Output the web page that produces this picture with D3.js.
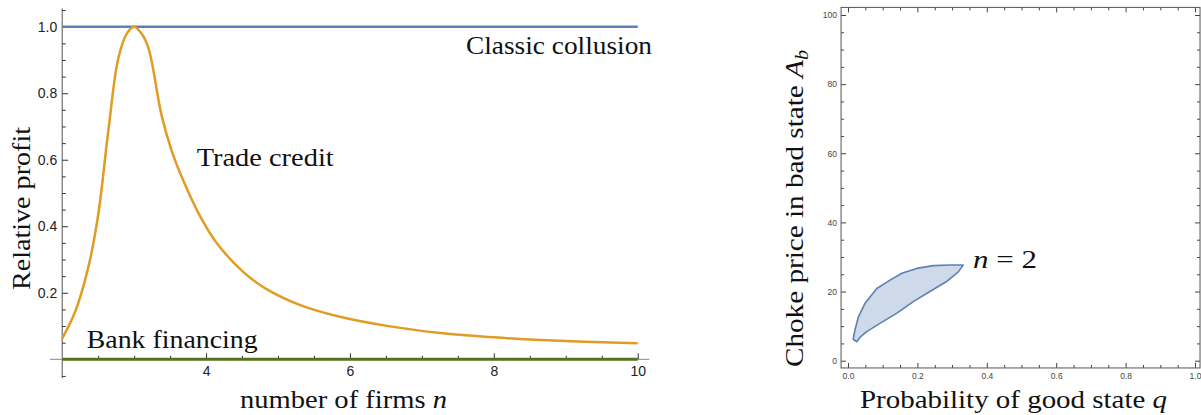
<!DOCTYPE html>
<html lang="en">
<head>
<meta charset="UTF-8">
<title>Relative profit and choke price region</title>
<script src="https://d3js.org/d3.v7.min.js"></script>
<style>
    body { margin: 0; background: #fff; }
    .tick text { font-family: "Liberation Sans", Arial, sans-serif; fill: #222; }
</style>
</head>
<body>
<svg id="chart" width="1201" height="415"></svg>
<script>
// ---- left panel data ----
const firms = [2, 2.18, 2.36, 2.5, 2.64, 2.78, 2.9, 3, 3.1, 3.2, 3.38, 3.52, 3.68, 3.92, 4.15, 4.52, 4.84, 5.31, 5.86, 6.56, 7.26, 8, 8.65, 10];
const tradeCredit = [0.063, 0.143, 0.274, 0.434, 0.685, 0.905, 0.98, 1.0, 0.98, 0.935, 0.735, 0.628, 0.539, 0.429, 0.349, 0.262, 0.211, 0.163, 0.128, 0.099, 0.079, 0.066, 0.058, 0.048];
const flatFirms = [2, 10];
const classicCollusion = [1, 1];
const bankFinancing = [0, 0];
const leftXTicks = [4, 6, 8, 10];
const leftYTicks = [0.2, 0.4, 0.6, 0.8, 1.0];

// ---- right panel data (n = 2 region boundary) ----
const upperQ = [0.015, 0.020, 0.030, 0.049, 0.083, 0.121, 0.155, 0.198, 0.246, 0.294, 0.332];
const upperA = [6.2, 8.9, 12.7, 16.6, 20.9, 23.3, 25.3, 26.7, 27.5, 27.7, 27.7];
const lowerQ = [0.025, 0.035, 0.054, 0.092, 0.140, 0.188, 0.236, 0.284, 0.318];
const lowerA = [5.5, 6.8, 8.4, 10.8, 13.7, 17.1, 20.0, 22.9, 25.7];
const qTicks = [0, 0.2, 0.4, 0.6, 0.8, 1.0];
const aTicks = [0, 20, 40, 60, 80, 100];

const svg = d3.select("#chart");
const axisColor = "#555";
const serifFont = "'Liberation Serif', 'DejaVu Serif', serif";

// ================= left panel =================
const x = d3.scaleLinear().domain([2, 10]).range([62.2, 637.7]);
const y = d3.scaleLinear().domain([0, 1]).range([359.3, 26.7]);

const left = svg.append("g");

// axis lines (Mathematica style, crossing at origin)
left.append("line")
    .attr("x1", x(2)).attr("x2", x(2))
    .attr("y1", y(-0.057)).attr("y2", y(1.055))
    .attr("stroke", axisColor).attr("stroke-width", 1);
left.append("line")
    .attr("x1", x(1.83)).attr("x2", x(10.16))
    .attr("y1", y(0)).attr("y2", y(0))
    .attr("stroke", "#888").attr("stroke-width", 1);

// y ticks
const yMajor = left.append("g")
    .attr("transform", `translate(${x(2)},0)`)
    .call(d3.axisLeft(y).tickValues(leftYTicks).tickFormat(d3.format(".1f"))
        .tickSizeInner(-6).tickSizeOuter(0).tickPadding(5));
const yMinor = left.append("g")
    .attr("transform", `translate(${x(2)},0)`)
    .call(d3.axisLeft(y).tickValues(d3.range(-0.05, 1.06, 0.05).filter(v => Math.abs(v * 5 - Math.round(v * 5)) > 1e-6))
        .tickFormat("").tickSizeInner(-3.5).tickSizeOuter(0));

// x ticks
const xMajor = left.append("g")
    .attr("transform", `translate(0,${y(0)})`)
    .call(d3.axisBottom(x).tickValues(leftXTicks).tickFormat(d3.format("d"))
        .tickSizeInner(-6).tickSizeOuter(0).tickPadding(7));
const xMinor = left.append("g")
    .attr("transform", `translate(0,${y(0)})`)
    .call(d3.axisBottom(x).tickValues(d3.range(2.5, 10, 0.5).filter(v => v % 2 !== 0))
        .tickFormat("").tickSizeInner(-3.5).tickSizeOuter(0));

[yMajor, yMinor, xMajor, xMinor].forEach(g => {
    g.select(".domain").remove();
    g.selectAll(".tick line").attr("stroke", "#333");
    g.selectAll(".tick text").style("font-size", "14px");
});

// lines
const flatLine = d3.line().x((d, i) => x(flatFirms[i])).y(d => y(d));
left.append("path")
    .attr("d", flatLine(bankFinancing))
    .attr("fill", "none").attr("stroke", "#56711f").attr("stroke-width", 3);
left.append("path")
    .attr("d", flatLine(classicCollusion))
    .attr("fill", "none").attr("stroke", "#5E81B5").attr("stroke-width", 2.5);
left.append("path")
    .attr("d", d3.line().curve(d3.curveCatmullRom.alpha(0.5))
        .x((d, i) => x(firms[i])).y(d => y(d))(tradeCredit))
    .attr("fill", "none").attr("stroke", "#E19C24").attr("stroke-width", 2.5);

// labels
function serifLabel(g, tx, ty, len, parts, rotate) {
    const t = g.append("text")
        .attr("font-family", serifFont)
        .style("font-family", serifFont)
        .style("font-size", "26px")
        .attr("fill", "#111")
        .attr("textLength", len).attr("lengthAdjust", "spacingAndGlyphs");
    if (rotate) {
        t.attr("transform", `translate(${tx},${ty}) rotate(-90)`).attr("text-anchor", "middle");
    } else {
        t.attr("x", tx).attr("y", ty);
    }
    parts.forEach(p => {
        const s = t.append("tspan").text(p.t);
        if (p.i) s.style("font-style", "italic");
        if (p.sub) s.attr("dy", "0.25em").style("font-size", "18px");
    });
    return t;
}

serifLabel(left, 466, 54.3, 186, [{ t: "Classic collusion" }]);
serifLabel(left, 196.7, 165.7, 137, [{ t: "Trade credit" }]);
serifLabel(left, 86.7, 348.3, 171, [{ t: "Bank financing" }]);
serifLabel(left, 240, 408, 207, [{ t: "number of firms " }, { t: "n", i: true }]);
serifLabel(left, 30, 208.5, 163, [{ t: "Relative profit" }], true);

// ================= right panel =================
const q = d3.scaleLinear().domain([0, 1]).range([848, 1195]);
const a = d3.scaleLinear().domain([0, 100]).range([360.7, 15]);

const right = svg.append("g");
const fx0 = q(-0.02), fx1 = q(1.0145), fy0 = a(-2.1), fy1 = a(102.2);

function frameAxis(axisFn, scale, values, size, fmt, tx, ty, pad) {
    const g = right.append("g").attr("transform", `translate(${tx},${ty})`)
        .call(axisFn(scale).tickValues(values).tickFormat(fmt)
            .tickSizeInner(size).tickSizeOuter(0).tickPadding(pad));
    g.select(".domain").remove();
    g.selectAll(".tick line").attr("stroke", "#444");
    g.selectAll(".tick text").style("font-size", "8.5px").style("fill", "#444");
    return g;
}

const qMinor = d3.range(0, 1.001, 0.05).filter(v => Math.abs(v * 5 - Math.round(v * 5)) > 1e-6);
const aMinor = d3.range(0, 101, 5).filter(v => v % 20 !== 0);

// bottom / left with labels, top / right without
frameAxis(d3.axisBottom, q, qTicks, -5, d3.format(".1f"), 0, fy0, 5);
frameAxis(d3.axisBottom, q, qMinor, -3, "", 0, fy0, 5);
frameAxis(d3.axisTop, q, qTicks, -5, "", 0, fy1, 5);
frameAxis(d3.axisTop, q, qMinor, -3, "", 0, fy1, 5);
frameAxis(d3.axisLeft, a, aTicks, -5, d3.format("d"), fx0, 0, 4);
frameAxis(d3.axisLeft, a, aMinor, -3, "", fx0, 0, 4);
frameAxis(d3.axisRight, a, aTicks, -5, "", fx1, 0, 4);
frameAxis(d3.axisRight, a, aMinor, -3, "", fx1, 0, 4);

right.append("rect")
    .attr("x", fx0).attr("y", fy1)
    .attr("width", fx1 - fx0).attr("height", fy0 - fy1)
    .attr("fill", "none").attr("stroke", "#555").attr("stroke-width", 1);

// region polygon: upper edge left to right, lower edge right to left
const regionPts = upperQ.map((v, i) => [v, upperA[i]])
    .concat(lowerQ.map((v, i) => [v, lowerA[i]]).reverse());
right.append("path")
    .attr("d", d3.line().x(d => q(d[0])).y(d => a(d[1])).curve(d3.curveLinearClosed)(regionPts))
    .attr("fill", "#5E81B5").attr("fill-opacity", 0.3)
    .attr("stroke", "#5E81B5").attr("stroke-width", 1.6).attr("stroke-linejoin", "round");

serifLabel(right, 973, 268, 64, [{ t: "n", i: true }, { t: " = 2" }]);
serifLabel(right, 860, 408, 307, [{ t: "Probability of good state " }, { t: "q", i: true }]);
serifLabel(right, 803, 208.5, 317, [{ t: "Choke price in bad state " }, { t: "A", i: true }, { t: "b", i: true, sub: true }], true);
</script>
</body>
</html>
